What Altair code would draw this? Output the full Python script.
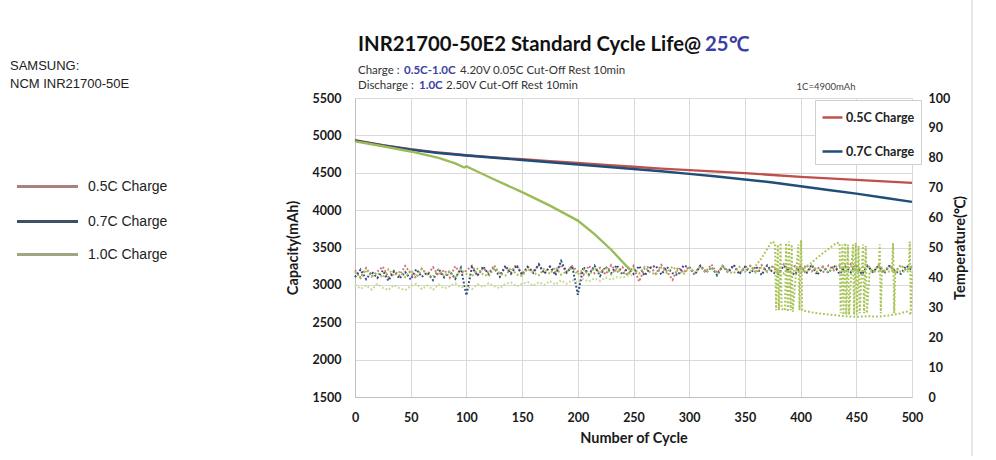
import altair as alt
import pandas as pd

# ---------------- data ----------------
SERIES = ["0.5C Charge", "0.7C Charge", "1.0C Charge"]
LINE_COLORS = ["#c0504d", "#1f4e79", "#9bbb59"]
SIDE_COLORS = ["#ab8080", "#3d5066", "#9ea683"]

x_ticks = [0, 50, 100, 150, 200, 250, 300, 350, 400, 450, 500]
cap_ticks = [1500, 2000, 2500, 3000, 3500, 4000, 4500, 5000, 5500]
temp_ticks = [0, 10, 20, 30, 40, 50, 60, 70, 80, 90, 100]

cap_cycles = [0, 25, 50, 75, 100, 125, 150, 175, 200, 225, 250, 275, 300, 325, 350, 375, 400, 425, 450, 475, 500]
cap_05 = [4935, 4870, 4815, 4770, 4735, 4705, 4680, 4655, 4630, 4605, 4580, 4555, 4535, 4515, 4495, 4470, 4445, 4425, 4405, 4385, 4365]
cap_07 = [4930, 4865, 4810, 4765, 4730, 4700, 4670, 4640, 4610, 4580, 4550, 4520, 4485, 4450, 4410, 4370, 4320, 4270, 4220, 4165, 4110]
cap10_cycles = [0, 10, 25, 50, 75, 90, 98, 100, 105, 125, 150, 175, 200, 215, 230, 240, 247]
cap_10 = [4920, 4895, 4855, 4785, 4700, 4625, 4570, 4585, 4550, 4410, 4240, 4060, 3860, 3680, 3470, 3310, 3200]

temp_cycles = list(range(0, 501, 5))
temp_05 = [42.4, 39.9, 43.1, 40.3, 41.9, 43.6, 40.0, 42.2, 40.6, 43.8, 41.3, 39.8, 42.9, 40.9, 43.4, 40.7, 42.5, 39.9, 43.7, 41.4,
           42.2, 43.9, 40.8, 43.1, 41.5, 44.0, 40.9, 43.3, 41.6, 44.3, 41.1, 43.5, 42.0, 44.1, 41.2, 43.6, 41.7, 44.2, 41.9, 43.8,
           42.0, 40.8, 43.9, 41.4, 43.2, 41.0, 44.1, 41.6, 43.5, 40.9, 43.8, 38.6, 43.0, 43.7, 41.2, 44.2, 42.0, 39.2, 43.4, 41.6,
           43.6, 41.4, 43.9, 42.0, 44.3, 41.5, 43.7, 42.2, 44.2, 41.3, 43.4, 43.9, 41.6, 44.1, 42.0, 43.6, 41.4, 44.4, 42.3, 43.8,
           41.2, 44.2, 42.0, 43.5, 41.6, 44.0, 42.3, 43.8, 41.5, 44.4, 42.4, 41.8, 43.9, 41.6, 44.3, 42.2, 43.8, 41.9, 44.1, 42.4, 43.7]
temp_07 = [40.1, 42.6, 39.4, 41.9, 39.8, 42.3, 38.9, 42.0, 39.6, 41.8, 39.3, 42.7, 40.2, 41.6, 39.1, 42.9, 40.0, 42.1, 39.5, 43.2,
           34.0, 43.4, 40.6, 43.7, 41.0, 43.1, 40.2, 43.9, 41.2, 44.0, 40.8, 43.5, 41.5, 44.4, 41.3, 43.6, 40.7, 45.5, 41.6, 43.8,
           34.2, 43.5, 41.0, 43.9, 40.5, 43.6, 41.4, 44.1, 40.9, 43.3, 41.2, 43.8, 40.6, 43.2, 43.9, 41.0, 43.5, 41.4, 40.8, 44.0,
           43.3, 40.9, 43.9, 41.5, 43.4, 40.7, 43.8, 41.6, 44.1, 41.0, 43.5, 41.4, 43.7, 40.8, 44.0, 41.6, 41.2, 43.9, 42.0, 40.9,
           43.8, 41.2, 44.2, 40.8, 43.5, 41.5, 44.0, 41.1, 43.6, 41.7, 44.3, 41.0, 43.8, 41.9, 43.7, 41.3, 44.1, 42.0, 41.2, 43.9, 42.4]
temp_10a = [41.9, 39.8, 42.5, 40.4, 41.6, 39.9, 42.7, 40.6, 41.8, 40.1, 42.4, 40.3, 42.8, 40.9, 40.2, 42.6, 40.5, 41.9, 39.8, 42.7,
            41.2, 40.3, 42.9, 41.0, 40.4, 43.1, 41.3, 40.6, 43.2, 41.0, 40.5, 42.8, 41.6, 40.7, 43.0, 41.2, 43.4, 40.9, 42.0, 43.1,
            40.9, 42.8, 40.6, 43.2, 41.4, 43.3, 41.0, 42.9, 41.6, 40.8, 43.1, 41.3, 43.5, 41.7, 41.0, 43.3, 41.5, 43.6, 41.9, 41.2,
            43.2, 41.4, 43.6, 41.6, 43.3, 41.2, 43.7, 41.8, 41.4, 43.5, 41.9, 43.8,
            41.6, 43.4, 41.8, 43.9, 42.0, 41.3, 43.6, 41.9, 43.5, 41.5, 44.0, 41.9, 43.7, 41.6, 43.3, 44.2, 41.7, 43.9, 42.0, 43.5,
            44.3, 41.8, 43.8, 42.1, 43.6, 41.6, 44.1, 42.2, 43.9]
temp10b_cycles = list(range(0, 251, 5))
temp_10b = [37.6, 36.2, 37.3, 35.9, 37.8, 36.5, 35.8, 37.4, 36.4, 35.7, 37.1, 37.9, 36.1, 37.3, 35.9, 37.6, 36.3, 37.0, 38.0, 36.6,
            37.2, 36.1, 37.7, 36.8, 38.1, 37.0, 36.4, 37.9, 38.3, 37.0, 37.8, 38.5, 37.2, 38.4, 37.5, 38.8, 37.6, 39.0, 37.9, 39.1,
            38.2, 39.4, 38.6, 39.7, 38.8, 40.0, 39.2, 40.1, 39.9, 40.6, 40.8]
oscA_cycles = [355, 360, 365, 370, 374, 377, 378, 379.5, 380.5, 382, 383, 386, 387, 388.5, 389.5, 391, 392, 393,
               398, 399, 400.5, 401.5, 410, 420, 430, 440, 450, 460, 470, 480, 490, 495, 500]
oscA_temps = [42.0, 44.0, 46.5, 49.5, 52.0, 51.5, 29.0, 51.0, 29.0, 51.5, 29.5, 29.0, 51.5, 28.5, 52.0, 29.0, 51.0, 28.5,
              51.0, 29.0, 52.5, 29.0, 28.3, 27.8, 27.4, 27.0, 26.8, 27.0, 26.9, 27.3, 28.0, 28.6, 27.5]
oscB_cycles = [403, 410, 418, 425, 432, 435, 436, 437.5, 438.5, 440, 441, 442.5, 443.5, 447, 448, 449.5, 450.5, 452, 453,
               456, 457, 458.5, 459.5, 462, 470, 471, 472, 473, 482, 483, 484, 485, 497, 498, 499, 500]
oscB_temps = [43.0, 45.0, 47.5, 49.5, 51.5, 51.5, 28.0, 51.0, 27.5, 51.5, 27.5, 51.0, 27.5, 51.0, 27.5, 51.5, 27.5, 50.5, 28.0,
              51.0, 28.0, 50.5, 28.0, 42.0, 42.0, 51.0, 28.0, 42.0, 42.0, 51.5, 28.0, 42.0, 42.0, 52.0, 28.0, 42.0]

TRACES = ["t05", "t07", "t10a", "t10b", "oscA", "oscB"]
TRACE_COLORS = ["#d27372", "#2b4a80", "#9fbf55", "#c6d993", "#a8c456", "#a8c456"]

# ---------------- tables ----------------
cap_rows = []
for name, cyc, vals in [(SERIES[0], cap_cycles, cap_05), (SERIES[1], cap_cycles, cap_07), (SERIES[2], cap10_cycles, cap_10)]:
    for i, (c, v) in enumerate(zip(cyc, vals)):
        cap_rows.append({"series": name, "cycle": c, "cap": v, "ord": i})
cap_df = pd.DataFrame(cap_rows)

temp_rows = []
for name, cyc, vals in [("t05", temp_cycles, temp_05), ("t07", temp_cycles, temp_07), ("t10a", temp_cycles, temp_10a),
                        ("t10b", temp10b_cycles, temp_10b), ("oscA", oscA_cycles, oscA_temps), ("oscB", oscB_cycles, oscB_temps)]:
    for i, (c, v) in enumerate(zip(cyc, vals)):
        temp_rows.append({"trace": name, "cycle": c, "temp": v, "ord": i})
temp_df = pd.DataFrame(temp_rows)

one = pd.DataFrame({"k": [0]})

AX = dict(labelFont="Lato", labelFontWeight="bold", labelFontSize=12.5, labelColor="#1a1a1a",
          ticks=False, titleFont="Lato", titleFontWeight="bold", titleFontSize=14.5, titleColor="#1a1a1a",
          gridColor="#d9d9d9", domainColor="#bfbfbf")

x_enc = alt.X("cycle:Q", scale=alt.Scale(domain=[0, 500], nice=False),
              axis=alt.Axis(values=x_ticks, title="Number of Cycle", grid=True, labelPadding=14, titlePadding=8,
                            labelFlush=False, **AX))

temp_layer = alt.Chart(temp_df).mark_line(strokeDash=[1.8, 2.0], strokeWidth=2.0).encode(
    x=x_enc,
    y=alt.Y("temp:Q", scale=alt.Scale(domain=[0, 100], nice=False),
            axis=alt.Axis(orient="right", values=temp_ticks, title="Temperature(℃)", grid=False, domain=False,
                          labelPadding=16, titlePadding=4, titleAngle=-90, titleBaseline="top", **AX)),
    color=alt.Color("trace:N", scale=alt.Scale(domain=TRACES, range=TRACE_COLORS), legend=None),
    order=alt.Order("ord:Q"),
)

cap_layer = alt.Chart(cap_df).mark_line(strokeWidth=2.4).encode(
    x=x_enc,
    y=alt.Y("cap:Q", scale=alt.Scale(domain=[1500, 5500], nice=False),
            axis=alt.Axis(orient="left", values=cap_ticks, format="d", title="Capacity(mAh)", grid=True,
                          labelPadding=14, titlePadding=12, **AX)),
    color=alt.Color("series:N", scale=alt.Scale(domain=SERIES, range=LINE_COLORS),
                    legend=alt.Legend(values=SERIES[:2], orient="none", legendX=460, legendY=2, title=None,
                                      direction="vertical", fillColor="white", strokeColor="#cfcfcf", padding=6,
                                      symbolType="stroke", symbolSize=400, symbolStrokeWidth=2.5,
                                      labelFont="Lato", labelFontWeight="bold", labelFontSize=12.5,
                                      labelColor="#222222", labelOffset=2, rowPadding=16)),
    order=alt.Order("ord:Q"),
)


def txt(s, x, y, size, weight="normal", color="#222222", font="Lato", align="left", baseline="alphabetic"):
    return alt.Chart(one).mark_text(text=s, align=align, baseline=baseline, font=font, fontSize=size,
                                    fontWeight=weight, color=color).encode(x=alt.value(x), y=alt.value(y))


def swatch(color, y):
    return alt.Chart(one).mark_rule(color=color, strokeWidth=3).encode(
        x=alt.value(-338), x2=alt.value(-277), y=alt.value(y))


# side legend (outside the plot, on the left)
side_rows = [88.5, 123.5, 156.5]
side_marks = []
for name, col, yy in zip(SERIES, SIDE_COLORS, side_rows):
    side_marks.append(swatch(col, yy))
    side_marks.append(txt(name, -267, yy, 14, "normal", "#222222", font="Liberation Sans", baseline="middle"))

BLUE = "#3b3fa3"
texts = [
    txt("INR21700-50E2 Standard Cycle Life@", 3, -47, 20.3, "bold", "#111111"),
    txt("25℃", 350, -47, 20.3, "bold", BLUE),
    txt("Charge :", 3, -24, 11.5, "normal", "#333333"),
    txt("0.5C-1.0C", 49, -24, 11.5, "bold", BLUE),
    txt("4.20V 0.05C Cut-Off Rest 10min", 105, -24, 11.5, "normal", "#333333"),
    txt("Discharge :", 3, -9, 11.5, "normal", "#333333"),
    txt("1.0C", 64, -9, 11.5, "bold", BLUE),
    txt("2.50V Cut-Off Rest 10min", 91, -9, 11.5, "normal", "#333333"),
    txt("1C=4900mAh", 471, -8, 9.5, "normal", "#444444", align="center"),
    txt("SAMSUNG:", -345, -28, 13, "normal", "#222222", font="Liberation Sans"),
    txt("NCM INR21700-50E", -345, -10, 13, "normal", "#222222", font="Liberation Sans"),
]

border = alt.Chart(one).mark_rule(color="#d0d0d0", strokeWidth=1).encode(
    x=alt.value(617), y=alt.value(-98), y2=alt.value(358))

chart = alt.layer(temp_layer, cap_layer, border, *side_marks, *texts).resolve_scale(
    y="independent", color="independent"
).properties(
    width=557, height=299,
    autosize=alt.AutoSizeParams(type="none"),
    padding={"left": 355, "top": 98, "right": 84, "bottom": 63},
    background="white",
).configure_view(stroke=None)

chart.save("out.html", embed_options={"renderer": "svg", "actions": False})
